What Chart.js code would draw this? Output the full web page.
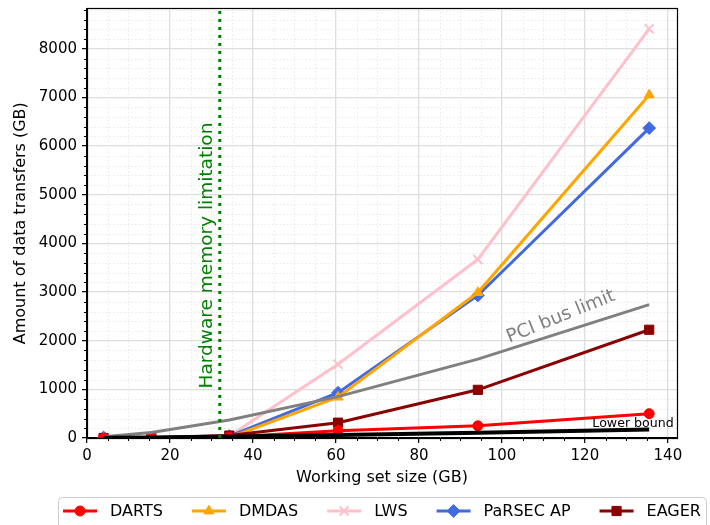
<!DOCTYPE html>
<html>
<head>
<meta charset="utf-8">
<title>Data transfers vs working set size</title>
<script src="https://cdn.jsdelivr.net/npm/chart.js@4/dist/chart.umd.min.js"></script>
<style>
  html, body { margin: 0; padding: 0; background: #ffffff; }
  canvas { display: block; }
</style>
</head>
<body>
<canvas id="chart" width="710" height="525"></canvas>
<script>
// Working set sizes (GB) at which each scheduler was measured
const workingSetGB = [4, 15.5, 34.3, 60.5, 94.2, 135.5];

// Amount of data transferred (GB) per scheduler
const dartsGB   = [0, 5, 20, 150, 250, 500];
const dmdasGB   = [0, 5, 10, 840, 2990, 7050];
const lwsGB     = [0, 5, 40, 1515, 3670, 8410];
const parsecGB  = [10, 5, 40, 930, 2930, 6370];
const eagerGB   = [0, 5, 50, 315, 990, 2225];

// Reference curves
const pciLimitGB   = [25, 115, 370, 850, 1620, 2740];
const lowerBoundGB = [3, 12, 30, 60, 110, 175];

// GPU memory capacity (GB)
const memoryLimitGB = 32;

// Axis ranges and tick values
const xRange = [0, 142.2];
const yRange = [0, 8830];
const xTicks = [0, 20, 40, 60, 80, 100, 120, 140];
const yTicks = [0, 1000, 2000, 3000, 4000, 5000, 6000, 7000, 8000];
const xMinorStep = 5;
const yMinorStep = 200;

const FONT = "'DejaVu Sans', 'Liberation Sans', sans-serif";

function pts(ys) {
  return workingSetGB.map((x, i) => ({ x: x, y: ys[i] }));
}

function series(label, ys, color, style, radius, order, extra) {
  return Object.assign({
    label: label,
    data: pts(ys),
    borderColor: color,
    backgroundColor: color,
    borderWidth: 3,
    pointStyle: style,
    pointRadius: radius,
    pointHoverRadius: radius,
    pointBackgroundColor: color,
    pointBorderColor: color,
    pointBorderWidth: 1,
    tension: 0,
    clip: 0,
    order: order,
    showInLegend: true
  }, extra || {});
}

const datasets = [
  series('DARTS', dartsGB, '#ff0000', 'circle', 5, 2),
  series('DMDAS', dmdasGB, '#ffa500', 'triangle', 5.8, 4),
  series('LWS', lwsGB, '#ffc0cb', 'crossRot', 6.4, 6, { pointBorderWidth: 2 }),
  series('PaRSEC AP', parsecGB, '#4169e1', 'rectRot', 6.4, 5),
  series('EAGER', eagerGB, '#8b0000', 'rect', 6.5, 3),
  {
    label: 'PCI bus limit', data: pts(pciLimitGB), borderColor: '#808080',
    backgroundColor: '#808080', borderWidth: 3, pointRadius: 0, tension: 0,
    clip: 0, order: 1, showInLegend: false
  },
  {
    label: 'Lower bound', data: pts(lowerBoundGB), borderColor: '#000000',
    backgroundColor: '#000000', borderWidth: 4, pointRadius: 0, tension: 0,
    clip: 0, order: 0, showInLegend: false
  }
];

function isMajor(v, list) {
  return list.some(t => Math.abs(t - v) < 1e-9);
}

// Minor grid lines and minor tick marks
const minorGrid = {
  id: 'minorGrid',
  beforeDatasetsDraw(chart) {
    const { ctx, chartArea: a, scales: { x, y } } = chart;
    const xs = [], ys = [];
    for (let v = x.min + xMinorStep; v < x.max; v += xMinorStep) if (!isMajor(v, xTicks)) xs.push(v);
    for (let v = y.min + yMinorStep; v < y.max; v += yMinorStep) if (!isMajor(v, yTicks)) ys.push(v);
    ctx.save();
    ctx.strokeStyle = '#e6e6e6';
    ctx.lineWidth = 0.9;
    ctx.setLineDash([1.5, 2.2]);
    xs.forEach(v => {
      const px = Math.round(x.getPixelForValue(v)) + 0.5;
      ctx.beginPath(); ctx.moveTo(px, a.top); ctx.lineTo(px, a.bottom); ctx.stroke();
    });
    ys.forEach(v => {
      const py = Math.round(y.getPixelForValue(v)) + 0.5;
      ctx.beginPath(); ctx.moveTo(a.left, py); ctx.lineTo(a.right, py); ctx.stroke();
    });
    ctx.setLineDash([]);
    ctx.strokeStyle = '#000000';
    ctx.lineWidth = 1;
    xs.forEach(v => {
      const px = Math.round(x.getPixelForValue(v)) + 0.5;
      ctx.beginPath(); ctx.moveTo(px, a.bottom); ctx.lineTo(px, a.bottom + 3); ctx.stroke();
    });
    ys.forEach(v => {
      const py = Math.round(y.getPixelForValue(v)) + 0.5;
      ctx.beginPath(); ctx.moveTo(a.left - 3, py); ctx.lineTo(a.left, py); ctx.stroke();
    });
    ctx.restore();
  }
};

// Memory limit marker, curve labels and the axes frame
const annotations = {
  id: 'annotations',
  afterDatasetsDraw(chart) {
    const { ctx, chartArea: a, scales: { x, y } } = chart;
    ctx.save();

    // vertical dotted line at the memory capacity
    const mx = x.getPixelForValue(memoryLimitGB);
    ctx.strokeStyle = '#008000';
    ctx.lineWidth = 3;
    ctx.setLineDash([3, 5]);
    ctx.beginPath(); ctx.moveTo(mx, a.bottom); ctx.lineTo(mx, a.top); ctx.stroke();
    ctx.setLineDash([]);

    // "Hardware memory limitation"
    ctx.save();
    ctx.translate(x.getPixelForValue(29.0), y.getPixelForValue(3750));
    ctx.rotate(-Math.PI / 2);
    ctx.fillStyle = '#008000';
    ctx.font = '18.5px ' + FONT;
    ctx.textAlign = 'center';
    ctx.textBaseline = 'middle';
    ctx.fillText('Hardware memory limitation', 0, 0);
    ctx.restore();

    // "PCI bus limit"
    ctx.save();
    ctx.translate(x.getPixelForValue(114.2), y.getPixelForValue(2490));
    ctx.rotate(-22 * Math.PI / 180);
    ctx.fillStyle = '#808080';
    ctx.font = '18.5px ' + FONT;
    ctx.textAlign = 'center';
    ctx.textBaseline = 'middle';
    ctx.fillText('PCI bus limit', 0, 0);
    ctx.restore();

    // "Lower bound"
    ctx.fillStyle = '#000000';
    ctx.font = '12.6px ' + FONT;
    ctx.textAlign = 'left';
    ctx.textBaseline = 'alphabetic';
    ctx.fillText('Lower bound', x.getPixelForValue(121.8), y.getPixelForValue(216));

    // frame
    ctx.strokeStyle = '#000000';
    ctx.lineWidth = 1.2;
    ctx.strokeRect(Math.round(a.left) + 0.5, Math.round(a.top) + 0.5,
                   Math.round(a.right - a.left), Math.round(a.bottom - a.top));
    ctx.restore();
  }
};

function drawMarker(ctx, style, r, cx, cy, color, bw) {
  ctx.save();
  ctx.fillStyle = color;
  ctx.strokeStyle = color;
  ctx.lineWidth = bw;
  ctx.beginPath();
  if (style === 'circle') {
    ctx.arc(cx, cy, r, 0, Math.PI * 2);
    ctx.fill(); ctx.stroke();
  } else if (style === 'triangle') {
    for (let k = 0; k < 3; k++) {
      const ang = k * 2 * Math.PI / 3;
      const px = cx + Math.sin(ang) * r, py = cy - Math.cos(ang) * r;
      k ? ctx.lineTo(px, py) : ctx.moveTo(px, py);
    }
    ctx.closePath(); ctx.fill(); ctx.stroke();
  } else if (style === 'rect') {
    const s = r * Math.SQRT1_2;
    ctx.rect(cx - s, cy - s, 2 * s, 2 * s);
    ctx.fill(); ctx.stroke();
  } else if (style === 'rectRot') {
    ctx.moveTo(cx, cy - r); ctx.lineTo(cx + r, cy); ctx.lineTo(cx, cy + r); ctx.lineTo(cx - r, cy);
    ctx.closePath(); ctx.fill(); ctx.stroke();
  } else if (style === 'crossRot') {
    const s = r * Math.SQRT1_2;
    ctx.moveTo(cx - s, cy - s); ctx.lineTo(cx + s, cy + s);
    ctx.moveTo(cx + s, cy - s); ctx.lineTo(cx - s, cy + s);
    ctx.stroke();
  }
  ctx.restore();
}

// Legend row below the plot, one column per scheduler
const legendRow = {
  id: 'legendRow',
  afterDraw(chart) {
    const { ctx, chartArea: a } = chart;
    const items = chart.data.datasets.filter(d => d.showInLegend);
    const handleLen = 34, handleGap = 13, colGap = 29, pad = 5;
    ctx.save();
    ctx.font = '16px ' + FONT;
    const widths = items.map(d => ctx.measureText(d.label).width);
    const total = widths.reduce((s, w) => s + w, 0) + items.length * (handleLen + handleGap) + colGap * (items.length - 1);
    const boxW = total + 2 * pad;
    const boxX = (a.left + a.right) / 2 - boxW / 2;
    const boxY = 497.5;
    const cy = 511;

    ctx.fillStyle = 'rgba(255,255,255,0.8)';
    ctx.strokeStyle = '#cccccc';
    ctx.lineWidth = 1;
    ctx.beginPath();
    ctx.roundRect(Math.round(boxX) + 0.5, boxY, Math.round(boxW), 40, 4);
    ctx.fill(); ctx.stroke();

    let cx = boxX + pad;
    items.forEach((d, i) => {
      ctx.strokeStyle = d.borderColor;
      ctx.lineWidth = d.borderWidth;
      ctx.beginPath(); ctx.moveTo(cx, cy); ctx.lineTo(cx + handleLen, cy); ctx.stroke();
      drawMarker(ctx, d.pointStyle, d.pointRadius, cx + handleLen / 2, cy, d.borderColor, d.pointBorderWidth);
      ctx.fillStyle = '#000000';
      ctx.font = '16px ' + FONT;
      ctx.textAlign = 'left';
      ctx.textBaseline = 'middle';
      ctx.fillText(d.label, cx + handleLen + handleGap, cy + 1);
      cx += handleLen + handleGap + widths[i] + colGap;
    });
    ctx.restore();
  }
};

new Chart(document.getElementById('chart'), {
  type: 'line',
  data: { datasets: datasets },
  options: {
    responsive: false,
    animation: false,
    devicePixelRatio: 1,
    layout: { padding: { left: 0, top: 3, right: 33, bottom: 38 } },
    plugins: {
      legend: { display: false },
      tooltip: { enabled: false }
    },
    scales: {
      x: {
        type: 'linear',
        min: xRange[0], max: xRange[1],
        afterFit(scale) {
          scale.height = 49;
          scale.paddingLeft = 0; scale.paddingRight = 0;
        },
        afterBuildTicks(scale) { scale.ticks = xTicks.map(v => ({ value: v })); },
        ticks: {
          maxRotation: 0, autoSkip: false,
          color: '#000000', padding: 4,
          font: { family: FONT, size: 15 },
          callback: v => String(v)
        },
        grid: {
          color: '#dedede', lineWidth: 1.3,
          tickLength: 5, tickColor: '#000000', tickWidth: 1.2
        },
        border: { color: '#000000', width: 1.2 },
        title: {
          display: true, text: 'Working set size (GB)', color: '#000000',
          font: { family: FONT, size: 16, lineHeight: 1.2 },
          padding: { top: 0, bottom: 0 }
        }
      },
      y: {
        type: 'linear',
        min: yRange[0], max: yRange[1],
        afterFit(scale) {
          scale.width = 87;
          scale.paddingTop = 0; scale.paddingBottom = 0;
        },
        afterBuildTicks(scale) { scale.ticks = yTicks.map(v => ({ value: v })); },
        ticks: {
          autoSkip: false,
          color: '#000000', padding: 5,
          font: { family: FONT, size: 15 },
          callback: v => String(v)
        },
        grid: {
          color: '#dedede', lineWidth: 1.3,
          tickLength: 5, tickColor: '#000000', tickWidth: 1.2
        },
        border: { color: '#000000', width: 1.2 },
        title: {
          display: true, text: 'Amount of data transfers (GB)', color: '#000000',
          font: { family: FONT, size: 16, lineHeight: 1.2 },
          padding: { top: 11, bottom: 0 }
        }
      }
    }
  },
  plugins: [minorGrid, annotations, legendRow]
});
</script>
</body>
</html>
